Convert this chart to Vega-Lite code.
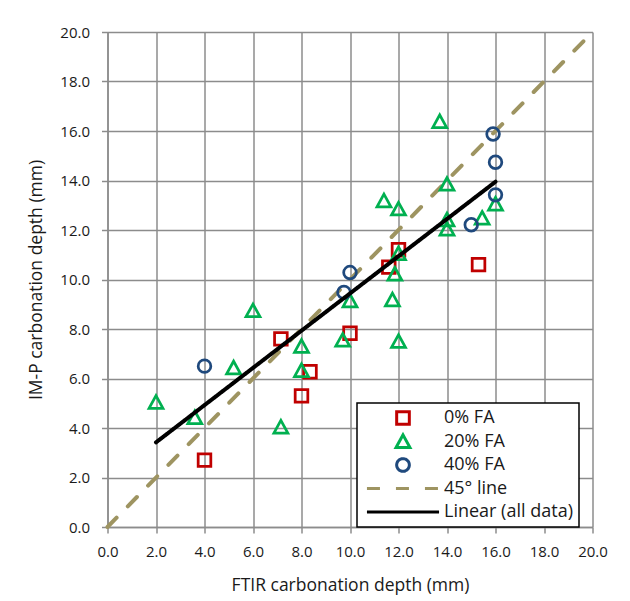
{
  "$schema": "https://vega.github.io/schema/vega-lite/v6.json",
  "width": 485,
  "height": 495,
  "autosize": {"type": "none"},
  "padding": {"left": 107.5, "top": 32, "right": 37.5, "bottom": 74},
  "background": "white",
  "config": {
    "view": {"stroke": null},
    "font": "Open Sans",
    "axis": {
      "labelFont": "Open Sans",
      "labelFontSize": 15,
      "labelColor": "#1a1a1a",
      "labelFlush": false,
      "titleFont": "Open Sans",
      "titleFontSize": 17.5,
      "titleFontWeight": "normal",
      "titleColor": "#1a1a1a",
      "domainColor": "#8c8c8c",
      "domainWidth": 1.5,
      "tickColor": "#8c8c8c",
      "tickWidth": 1.5,
      "tickSize": 6,
      "gridColor": "#8c8c8c",
      "gridWidth": 1.5,
      "gridOpacity": 1
    },
    "legend": {
      "labelFont": "Open Sans",
      "labelFontSize": 18,
      "labelColor": "#1a1a1a"
    }
  },
  "datasets": {
    "pts": [
      {"x": 4.0, "y": 2.7, "series": "0% FA"},
      {"x": 7.15, "y": 7.6, "series": "0% FA"},
      {"x": 8.0, "y": 5.3, "series": "0% FA"},
      {"x": 8.35, "y": 6.27, "series": "0% FA"},
      {"x": 10.0, "y": 7.83, "series": "0% FA"},
      {"x": 11.6, "y": 10.5, "series": "0% FA"},
      {"x": 12.0, "y": 11.2, "series": "0% FA"},
      {"x": 15.3, "y": 10.6, "series": "0% FA"},
      {"x": 2.0, "y": 5.04, "series": "20% FA"},
      {"x": 3.6, "y": 4.42, "series": "20% FA"},
      {"x": 5.2, "y": 6.43, "series": "20% FA"},
      {"x": 6.0, "y": 8.74, "series": "20% FA"},
      {"x": 7.15, "y": 4.04, "series": "20% FA"},
      {"x": 8.0, "y": 7.3, "series": "20% FA"},
      {"x": 8.0, "y": 6.32, "series": "20% FA"},
      {"x": 9.7, "y": 7.55, "series": "20% FA"},
      {"x": 10.0, "y": 9.14, "series": "20% FA"},
      {"x": 11.4, "y": 13.18, "series": "20% FA"},
      {"x": 11.75, "y": 9.18, "series": "20% FA"},
      {"x": 11.85, "y": 10.22, "series": "20% FA"},
      {"x": 12.0, "y": 11.05, "series": "20% FA"},
      {"x": 12.0, "y": 12.85, "series": "20% FA"},
      {"x": 12.0, "y": 7.5, "series": "20% FA"},
      {"x": 13.7, "y": 16.38, "series": "20% FA"},
      {"x": 14.0, "y": 13.85, "series": "20% FA"},
      {"x": 14.0, "y": 12.41, "series": "20% FA"},
      {"x": 14.0, "y": 12.04, "series": "20% FA"},
      {"x": 15.45, "y": 12.48, "series": "20% FA"},
      {"x": 16.0, "y": 13.05, "series": "20% FA"},
      {"x": 4.0, "y": 6.5, "series": "40% FA"},
      {"x": 9.75, "y": 9.48, "series": "40% FA"},
      {"x": 10.0, "y": 10.28, "series": "40% FA"},
      {"x": 15.0, "y": 12.21, "series": "40% FA"},
      {"x": 15.9, "y": 15.88, "series": "40% FA"},
      {"x": 16.0, "y": 14.74, "series": "40% FA"},
      {"x": 16.0, "y": 13.42, "series": "40% FA"}
    ],
    "lines": [
      {"x": 0, "y": 0, "series": "45° line"},
      {"x": 20, "y": 20, "series": "45° line"},
      {"x": 2.0, "y": 3.42, "series": "Linear (all data)"},
      {"x": 16.0, "y": 13.95, "series": "Linear (all data)"}
    ]
  },
  "encoding": {
    "x": {
      "field": "x", "type": "quantitative",
      "scale": {"domain": [0, 20], "nice": false, "zero": false},
      "axis": {"title": "FTIR carbonation depth (mm)", "values": [0,2,4,6,8,10,12,14,16,18,20], "format": ".1f", "labelPadding": 11, "titlePadding": 17}
    },
    "y": {
      "field": "y", "type": "quantitative",
      "scale": {"domain": [0, 20], "nice": false, "zero": false},
      "axis": {"title": "IM-P carbonation depth (mm)", "values": [0,2,4,6,8,10,12,14,16,18,20], "format": ".1f", "labelPadding": 12, "titlePadding": 14}
    },
    "color": {
      "field": "series", "type": "nominal",
      "scale": {"domain": ["0% FA", "20% FA", "40% FA", "45° line", "Linear (all data)"], "range": ["#C00000", "#00B050", "#1F497D", "#9E9461", "#000000"]},
      "legend": {
        "title": null, "orient": "none", "legendX": 249.5, "legendY": 371,
        "padding": 6, "fillColor": "white", "strokeColor": "black",
        "symbolSize": 160, "symbolStrokeWidth": 3, "symbolOffset": 31, "labelOffset": 32, "rowPadding": -2.5, "gridAlign": "all",
        "encode": {"legend": {"update": {"strokeWidth": {"value": 1.5}}}}
      }
    }
  },
  "layer": [
    {
      "data": {"name": "lines"},
      "transform": [{"filter": "datum.series === '45° line'"}],
      "mark": {"type": "line", "strokeWidth": 4, "strokeCap": "round"},
      "encoding": {
        "strokeDash": {
          "field": "series", "type": "nominal",
          "scale": {"domain": ["0% FA", "20% FA", "40% FA", "45° line", "Linear (all data)"], "range": [[1,0],[1,0],[1,0],[13,16],[1,0]]},
          "legend": {"title": null}
        }
      }
    },
    {
      "data": {"name": "pts"},
      "mark": {"type": "point", "filled": false, "strokeWidth": 2.75, "size": 160, "opacity": 1},
      "encoding": {
        "shape": {
          "field": "series", "type": "nominal",
          "scale": {"domain": ["0% FA", "20% FA", "40% FA", "45° line", "Linear (all data)"], "range": ["M-1,-1H1V1H-1Z", "M0,-1.05L1.1,0.95L-1.1,0.95Z", "M-1,0A1,1,0,1,0,1,0A1,1,0,1,0,-1,0Z", "M-5.7,0H5.7", "M-5.7,0H5.7"]},
          "legend": {"title": null}
        }
      }
    },
    {
      "data": {"name": "lines"},
      "transform": [{"filter": "datum.series === 'Linear (all data)'"}],
      "mark": {"type": "line", "strokeWidth": 4, "strokeCap": "round"},
      "encoding": {
        "strokeDash": {
          "field": "series", "type": "nominal",
          "scale": {"domain": ["0% FA", "20% FA", "40% FA", "45° line", "Linear (all data)"], "range": [[1,0],[1,0],[1,0],[13,16],[1,0]]},
          "legend": {"title": null}
        }
      }
    }
  ]
}
